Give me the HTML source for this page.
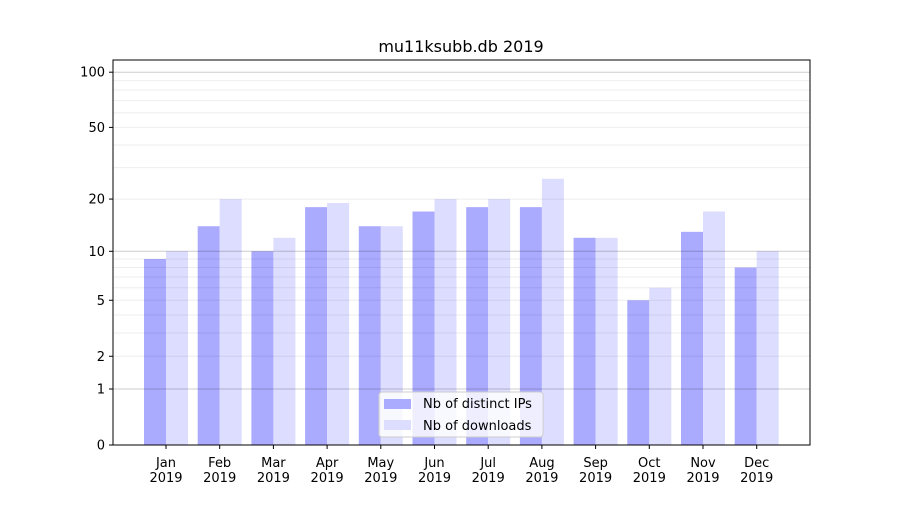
<!DOCTYPE html>
<html><head><meta charset="utf-8"><style>body{margin:0;background:#fff}svg{font-family:"DejaVu Sans","Liberation Sans",sans-serif}</style></head>
<body>
<svg id="c" width="900" height="500"></svg>
<script>
const months=["Jan","Feb","Mar","Apr","May","Jun","Jul","Aug","Sep","Oct","Nov","Dec"];
const ips=[9,14,10,18,14,17,18,18,12,5,13,8];
const downloads=[10,20,12,19,14,20,20,26,12,6,17,10];
const yTicks=[0,1,2,5,10,20,50,100];
const majorGrid=[1,10,100];
const minorGrid=[2,3,4,5,6,7,8,9,20,30,40,50,60,70,80,90];
const NS="http://www.w3.org/2000/svg";
const svg=document.getElementById('c');
const L=113,R=810,T=60,B=445;
function y(v){return B-186*Math.log10(1+v);}
function x(i){return 166+i*53.7;}
function el(t,a,p){const e=document.createElementNS(NS,t);for(const k in a)e.setAttribute(k,a[k]);(p||svg).appendChild(e);return e;}
const t=el('text',{x:461,y:52,'text-anchor':'middle','font-size':16});t.textContent="mu11ksubb.db 2019";


months.forEach((m,i)=>{
 const b1=el('rect',{x:x(i)-22,y:y(ips[i]),width:22,height:B-y(ips[i]),fill:'#aaaaff'});
 
 
 const b2=el('rect',{x:x(i),y:y(downloads[i]),width:22,height:B-y(downloads[i]),fill:'#ddddff'});
 
 
 el('line',{x1:x(i),x2:x(i),y1:B,y2:B+4,stroke:'#000'});
 const tx=el('text',{x:x(i),y:467,'text-anchor':'middle','font-size':13});tx.textContent=m;
 
 
 const ty=el('text',{x:x(i),y:482,'text-anchor':'middle','font-size':13});ty.textContent="2019";
});
minorGrid.forEach(v=>{el('line',{x1:L,x2:R,y1:y(v),y2:y(v),stroke:'#000','stroke-opacity':0.07});});
majorGrid.forEach(v=>{el('line',{x1:L,x2:R,y1:y(v),y2:y(v),stroke:'#000','stroke-opacity':0.2});});
yTicks.forEach(v=>{
 el('line',{x1:L-4,x2:L,y1:y(v),y2:y(v),stroke:'#000'});
 const tl=el('text',{x:L-8,y:y(v)+4.5,'text-anchor':'end','font-size':13});tl.textContent=v;
 
 
});
const ax=el('rect',{x:L,y:T,width:R-L,height:B-T,fill:'none',stroke:'#000','stroke-width':1});


const lg=el('g',{});


el('rect',{x:379,y:392,width:164,height:45,rx:3,fill:'#fff','fill-opacity':0.8,stroke:'#ccc'},lg);
el('rect',{x:384,y:399,width:27,height:10,fill:'#aaaaff'},lg);
el('rect',{x:384,y:420,width:27,height:10,fill:'#ddddff'},lg);
const l1=el('text',{x:423,y:408,'font-size':13},lg);l1.textContent="Nb of distinct IPs";
const l2=el('text',{x:423,y:430,'font-size':13},lg);l2.textContent="Nb of downloads";
</script>
</body></html>
